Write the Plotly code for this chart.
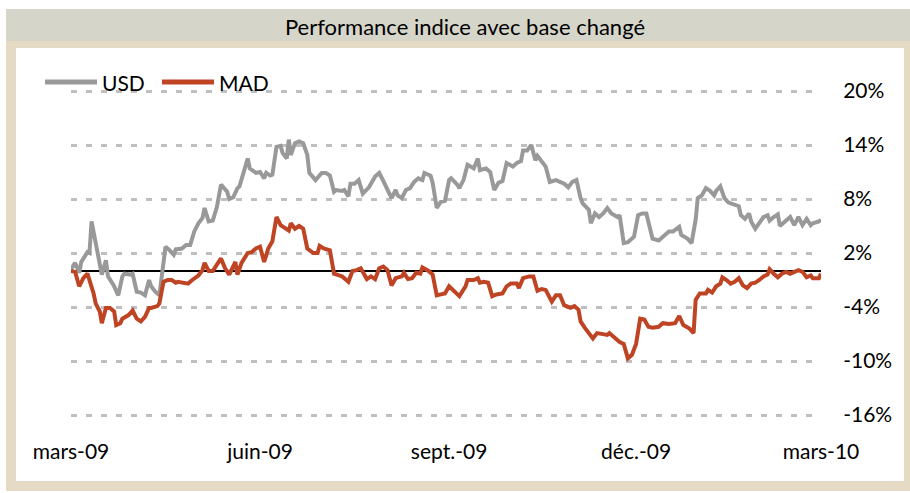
import plotly.graph_objects as go

# ---------------- data ----------------
title_text = "Performance indice avec base changé"
series_names = ["USD", "MAD"]

usd_dates = [
    "2009-03-01", "2009-03-03", "2009-03-05", "2009-03-06", "2009-03-09", "2009-03-10", "2009-03-11",
    "2009-03-13", "2009-03-14", "2009-03-16", "2009-03-18", "2009-03-19", "2009-03-22", "2009-03-24",
    "2009-03-26", "2009-03-27", "2009-03-30", "2009-03-31", "2009-04-02", "2009-04-04", "2009-04-06",
    "2009-04-08", "2009-04-09", "2009-04-11", "2009-04-13", "2009-04-14", "2009-04-16", "2009-04-18",
    "2009-04-20", "2009-04-21", "2009-04-24", "2009-04-26", "2009-04-28", "2009-04-30", "2009-05-02",
    "2009-05-04", "2009-05-05", "2009-05-07", "2009-05-09", "2009-05-11", "2009-05-13", "2009-05-16",
    "2009-05-17", "2009-05-19", "2009-05-21", "2009-05-22", "2009-05-24", "2009-05-26", "2009-05-27",
    "2009-05-29", "2009-05-30", "2009-06-01", "2009-06-03", "2009-06-04", "2009-06-06", "2009-06-07",
    "2009-06-09", "2009-06-11", "2009-06-12", "2009-06-14", "2009-06-15", "2009-06-16", "2009-06-18",
    "2009-06-20", "2009-06-22", "2009-06-24", "2009-06-25", "2009-06-28", "2009-07-01", "2009-07-03",
    "2009-07-05", "2009-07-07", "2009-07-08", "2009-07-11", "2009-07-12", "2009-07-14", "2009-07-15",
    "2009-07-17", "2009-07-19", "2009-07-21", "2009-07-24", "2009-07-27", "2009-07-29", "2009-07-31",
    "2009-08-02", "2009-08-04", "2009-08-06", "2009-08-07", "2009-08-09", "2009-08-11", "2009-08-13",
    "2009-08-15", "2009-08-17", "2009-08-19", "2009-08-20", "2009-08-23", "2009-08-24", "2009-08-26",
    "2009-08-28", "2009-08-30", "2009-09-01", "2009-09-02", "2009-09-05", "2009-09-06", "2009-09-08",
    "2009-09-10", "2009-09-13", "2009-09-15", "2009-09-16", "2009-09-19", "2009-09-21", "2009-09-23",
    "2009-09-25", "2009-09-27", "2009-09-29", "2009-10-02", "2009-10-04", "2009-10-06", "2009-10-07",
    "2009-10-09", "2009-10-11", "2009-10-13", "2009-10-14", "2009-10-18", "2009-10-20", "2009-10-23",
    "2009-10-27", "2009-10-29", "2009-10-31", "2009-11-02", "2009-11-04", "2009-11-05", "2009-11-08",
    "2009-11-09", "2009-11-11", "2009-11-13", "2009-11-15", "2009-11-17", "2009-11-19", "2009-11-22",
    "2009-11-23", "2009-11-25", "2009-11-27", "2009-11-30", "2009-12-02", "2009-12-04", "2009-12-06",
    "2009-12-08", "2009-12-09", "2009-12-12", "2009-12-14", "2009-12-17", "2009-12-19", "2009-12-22",
    "2009-12-23", "2009-12-26", "2009-12-28", "2009-12-30", "2009-12-31", "2010-01-02", "2010-01-04",
    "2010-01-06", "2010-01-08", "2010-01-09", "2010-01-11", "2010-01-13", "2010-01-15", "2010-01-18",
    "2010-01-20", "2010-01-21", "2010-01-23", "2010-01-25", "2010-01-26", "2010-01-28", "2010-01-30",
    "2010-02-01", "2010-02-03", "2010-02-04", "2010-02-06", "2010-02-08", "2010-02-09", "2010-02-12",
    "2010-02-14", "2010-02-16", "2010-02-18", "2010-02-20", "2010-02-22", "2010-02-24", "2010-02-25",
    "2010-02-28", "2010-03-01",
]
usd_values = [
    0.2, 0.9, -0.2, 1.0, 2.1, 2.0, 5.5,
    3.1, 1.6, -0.4, 1.2, -0.6, -1.7, -2.7,
    -0.6, -0.3, -0.4, -0.3, -2.3, -2.4, -2.7,
    -1.0, -1.7, -2.3, -2.7, -0.6, 2.7, 2.3,
    1.8, 2.4, 2.5, 2.9, 2.9, 4.4, 5.3,
    5.9, 7.0, 5.5, 5.6, 7.1, 9.6, 8.8,
    8.0, 8.2, 9.2, 9.4, 10.9, 12.5, 11.4,
    11.0, 10.9, 11.0, 10.3, 10.9, 10.6, 10.7,
    13.8, 13.9, 13.1, 12.5, 14.6, 12.9, 14.2,
    14.4, 14.2, 12.9, 10.9, 10.1, 10.9, 10.9,
    10.6, 8.8, 9.0, 8.9, 9.0, 8.3, 9.7,
    9.7, 10.1, 8.6, 9.3, 10.5, 10.9, 10.0,
    9.0, 8.1, 9.0, 8.4, 8.1, 9.0, 9.2,
    9.9, 10.3, 10.1, 10.9, 10.6, 9.8, 7.0,
    7.7, 7.8, 10.1, 10.3, 9.6, 9.2, 10.1,
    11.8, 11.4, 12.5, 11.2, 11.4, 11.0, 9.0,
    9.8, 10.0, 12.0, 11.6, 12.0, 12.2, 13.4,
    13.4, 14.0, 12.3, 12.8, 11.6, 9.9, 10.1,
    9.7, 9.3, 9.9, 10.1, 8.1, 7.5, 6.8,
    5.3, 6.4, 6.0, 6.4, 7.0, 6.4, 6.0,
    6.2, 3.1, 3.2, 3.8, 6.2, 6.4, 6.4,
    4.6, 3.6, 3.4, 3.8, 4.4, 4.4, 4.9,
    4.0, 3.6, 3.1, 5.7, 8.1, 8.4, 9.2,
    8.9, 8.4, 8.9, 9.4, 8.1, 7.6, 7.4,
    7.2, 6.2, 5.8, 6.4, 5.5, 4.7, 5.3,
    6.0, 6.2, 5.6, 6.0, 6.3, 5.0, 5.6,
    6.0, 5.1, 6.0, 5.1, 5.8, 5.1, 5.3,
    5.5, 5.7,
]

mad_dates = [
    "2009-03-01", "2009-03-03", "2009-03-05", "2009-03-07", "2009-03-09", "2009-03-10", "2009-03-12",
    "2009-03-13", "2009-03-15", "2009-03-16", "2009-03-18", "2009-03-20", "2009-03-22", "2009-03-23",
    "2009-03-25", "2009-03-26", "2009-03-29", "2009-03-31", "2009-04-02", "2009-04-04", "2009-04-06",
    "2009-04-08", "2009-04-09", "2009-04-12", "2009-04-13", "2009-04-15", "2009-04-17", "2009-04-19",
    "2009-04-21", "2009-04-22", "2009-04-25", "2009-04-27", "2009-04-29", "2009-04-30", "2009-05-02",
    "2009-05-04", "2009-05-05", "2009-05-07", "2009-05-09", "2009-05-11", "2009-05-13", "2009-05-15",
    "2009-05-17", "2009-05-20", "2009-05-21", "2009-05-23", "2009-05-26", "2009-05-28", "2009-05-30",
    "2009-06-01", "2009-06-03", "2009-06-05", "2009-06-07", "2009-06-09", "2009-06-11", "2009-06-13",
    "2009-06-15", "2009-06-16", "2009-06-18", "2009-06-20", "2009-06-22", "2009-06-24", "2009-06-27",
    "2009-06-29", "2009-06-30", "2009-07-02", "2009-07-05", "2009-07-07", "2009-07-09", "2009-07-11",
    "2009-07-14", "2009-07-16", "2009-07-18", "2009-07-20", "2009-07-23", "2009-07-25", "2009-07-27",
    "2009-07-29", "2009-07-31", "2009-08-02", "2009-08-04", "2009-08-06", "2009-08-09", "2009-08-10",
    "2009-08-12", "2009-08-14", "2009-08-16", "2009-08-18", "2009-08-19", "2009-08-22", "2009-08-24",
    "2009-08-26", "2009-08-28", "2009-08-30", "2009-09-01", "2009-09-04", "2009-09-06", "2009-09-09",
    "2009-09-10", "2009-09-13", "2009-09-15", "2009-09-16", "2009-09-18", "2009-09-20", "2009-09-22",
    "2009-09-24", "2009-09-27", "2009-09-29", "2009-10-01", "2009-10-04", "2009-10-05", "2009-10-07",
    "2009-10-10", "2009-10-12", "2009-10-14", "2009-10-16", "2009-10-18", "2009-10-21", "2009-10-23",
    "2009-10-25", "2009-10-27", "2009-10-30", "2009-11-01", "2009-11-03", "2009-11-04", "2009-11-06",
    "2009-11-09", "2009-11-10", "2009-11-12", "2009-11-14", "2009-11-17", "2009-11-18", "2009-11-21",
    "2009-11-23", "2009-11-25", "2009-11-27", "2009-11-29", "2009-12-01", "2009-12-03", "2009-12-05",
    "2009-12-07", "2009-12-09", "2009-12-12", "2009-12-14", "2009-12-17", "2009-12-20", "2009-12-22",
    "2009-12-24", "2009-12-27", "2009-12-29", "2009-12-30", "2010-01-01", "2010-01-04", "2010-01-05",
    "2010-01-07", "2010-01-09", "2010-01-11", "2010-01-12", "2010-01-14", "2010-01-16", "2010-01-18",
    "2010-01-20", "2010-01-22", "2010-01-24", "2010-01-26", "2010-01-28", "2010-01-30", "2010-02-01",
    "2010-02-03", "2010-02-04", "2010-02-06", "2010-02-08", "2010-02-10", "2010-02-12", "2010-02-14",
    "2010-02-16", "2010-02-18", "2010-02-20", "2010-02-22", "2010-02-24", "2010-02-25", "2010-02-28",
    "2010-03-01",
]
mad_values = [
    0.0, -0.1, -1.7, -0.8, -0.3, -1.0, -2.5,
    -3.6, -4.5, -5.8, -4.1, -4.1, -4.5, -6.0,
    -5.8, -5.3, -4.9, -4.4, -5.3, -5.6, -5.1,
    -4.1, -4.1, -3.9, -3.6, -1.2, -1.0, -1.0,
    -1.3, -1.2, -1.3, -1.4, -1.0, -0.8, -0.5,
    0.1, 0.9, 0.0, 0.0, 0.7, 1.4, 0.3,
    -0.4, 1.0, -0.4, 0.9, 2.0, 2.1, 2.5,
    2.7, 1.0, 2.5, 3.3, 6.0, 5.1, 4.8,
    4.5, 5.3, 4.7, 5.0, 4.7, 2.5, 2.0,
    2.0, 2.8, 2.5, 2.3, -0.3, -0.4, -0.6,
    -1.2, 0.0, 0.1, 0.3, -0.9, -0.6, -0.9,
    0.3, 0.5, 0.1, -1.6, -0.8, -0.6, -0.2,
    -0.9, -0.8, -0.2, -0.3, 0.4, 0.0, -0.4,
    -2.7, -2.6, -2.5, -1.7, -2.3, -2.8, -1.7,
    -1.0, -1.0, -0.8, -1.3, -1.2, -1.3, -2.8,
    -2.6, -2.5, -1.7, -1.4, -1.4, -1.9, -0.8,
    -0.6, -0.6, -2.2, -2.0, -2.1, -3.4, -2.7,
    -2.7, -3.8, -4.1, -3.9, -4.3, -5.6, -6.3,
    -7.3, -7.5, -6.9, -7.0, -7.1, -6.9, -7.5,
    -7.9, -8.1, -9.7, -9.3, -8.1, -5.3, -5.4,
    -6.2, -6.3, -6.2, -5.8, -5.9, -5.8, -5.0,
    -6.0, -6.4, -6.9, -3.2, -2.5, -2.5, -2.1,
    -2.4, -1.7, -1.4, -0.7, -1.0, -1.4, -1.2,
    -0.8, -1.6, -1.9, -1.4, -1.3, -1.0, -0.6,
    -0.4, 0.2, -0.3, -0.7, -0.3, -0.1, -0.3,
    -0.1, 0.1, -0.1, -0.7, -0.5, -0.8, -0.8,
    -0.3,
]

y_tick_values = [-16, -10, -4, 2, 8, 14, 20]
y_tick_labels = ["-16%", "-10%", "-4%", "2%", "8%", "14%", "20%"]
x_tick_dates = ["2009-03-01", "2009-06-01", "2009-09-01", "2009-12-01", "2010-03-01"]
x_tick_labels = ["mars-09", "juin-09", "sept.-09", "déc.-09", "mars-10"]

# ---------------- styling / layout ----------------
W, H = 910, 493
L, R, T, B = 71, 89, 89, 76
PW, PH = W - L - R, H - T - B
FONT = "Lato, 'Open Sans', sans-serif"
FS = 21
BEIGE = "#E5DAC3"
BAND = "#D6D5C9"
GRAY_LINE = "#999999"
RED_LINE = "#BF4424"
colors = [GRAY_LINE, RED_LINE]


def fx(p):
    return (p - L) / PW


def fy(p):
    return (H - B - p) / PH


fig = go.Figure()
fig.add_trace(go.Scatter(x=usd_dates, y=usd_values, mode="lines", name=series_names[0],
                         line=dict(color=colors[0], width=4), showlegend=False))
fig.add_trace(go.Scatter(x=mad_dates, y=mad_values, mode="lines", name=series_names[1],
                         line=dict(color=colors[1], width=4), showlegend=False))

shapes = [
    dict(type="rect", xref="paper", yref="paper", x0=fx(6), x1=fx(W + 2), y0=fy(491), y1=fy(9),
         fillcolor=BEIGE, line=dict(width=0), layer="below"),
    dict(type="rect", xref="paper", yref="paper", x0=fx(6), x1=fx(W + 2), y0=fy(41), y1=fy(9),
         fillcolor=BAND, line=dict(width=0), layer="below"),
    dict(type="rect", xref="paper", yref="paper", x0=fx(16), x1=fx(904), y0=fy(481), y1=fy(48),
         fillcolor="white", line=dict(width=0), layer="below"),
]

# legend (swatch + label), drawn as layout decoration
annotations = []
legend_slots = [(45, 100), (162, 217)]
for name, col, (sx, tx) in zip(series_names, colors, legend_slots):
    shapes.append(dict(type="line", xref="paper", yref="paper", x0=fx(sx), x1=fx(sx + 52),
                       y0=fy(82), y1=fy(82), line=dict(color=col, width=5)))
    annotations.append(dict(text=name, xref="paper", yref="paper", x=fx(tx), y=fy(82),
                            xanchor="left", yanchor="middle", showarrow=False,
                            font=dict(family=FONT, size=FS, color="black")))

fig.update_layout(
    width=W, height=H,
    margin=dict(l=L, r=R, t=T, b=B, pad=0),
    paper_bgcolor="white",
    plot_bgcolor="rgba(0,0,0,0)",
    font=dict(family=FONT, size=FS, color="black"),
    title=dict(text=title_text, x=465 / W, xref="container", xanchor="center",
               y=1 - 27 / H, yref="container", yanchor="middle",
               font=dict(family=FONT, size=22, color="black")),
    showlegend=False,
    shapes=shapes,
    annotations=annotations,
    xaxis=dict(type="date", range=["2009-03-01", "2010-03-01"],
               tickvals=x_tick_dates, ticktext=x_tick_labels,
               showgrid=False, zeroline=False, showline=False,
               ticks="outside", ticklen=16, tickcolor="rgba(0,0,0,0)",
               tickfont=dict(size=FS)),
    yaxis=dict(side="right", range=[-16 - 2 / 9, 20 + 2 / 9],
               tickvals=y_tick_values, ticktext=y_tick_labels,
               showgrid=True, gridcolor="#BFBFBF", gridwidth=2.5, griddash="6px,9px",
               zeroline=True, zerolinecolor="black", zerolinewidth=2,
               showline=False,
               ticks="outside", ticklen=17, tickcolor="rgba(0,0,0,0)",
               tickfont=dict(size=FS)),
)

fig.write_html("out.html", config={"displayModeBar": False},
               post_script="document.body.style.margin='0';")
